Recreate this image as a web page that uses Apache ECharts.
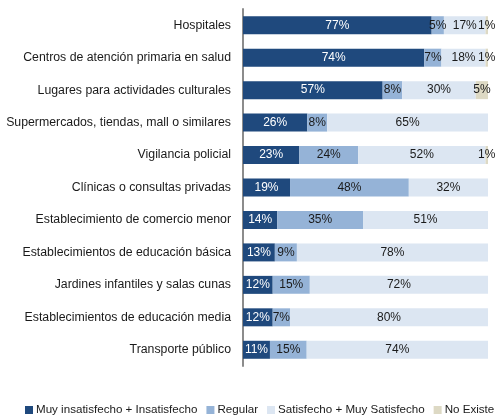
<!DOCTYPE html>
<html>
<head>
<meta charset="utf-8">
<script src="https://cdn.jsdelivr.net/npm/echarts@6/dist/echarts.min.js"></script>
<style>
  * { margin: 0; padding: 0; }
  html, body { background: #fff; }
</style>
</head>
<body>
<div id="chart" style="width: 495px; height: 416px;"></div>
<script>
  // categorias (de arriba hacia abajo)
  var categorias = [
    'Hospitales',
    'Centros de atención primaria en salud',
    'Lugares para actividades culturales',
    'Supermercados, tiendas, mall o similares',
    'Vigilancia policial',
    'Clínicas o consultas privadas',
    'Establecimiento de comercio menor',
    'Establecimientos de educación básica',
    'Jardines infantiles y salas cunas',
    'Establecimientos de educación media',
    'Transporte público'
  ];
  var insatisfecho = [77, 74, 57, 26, 23, 19, 14, 13, 12, 12, 11];
  var regular      = [5, 7, 8, 8, 24, 48, 35, 9, 15, 7, 15];
  var satisfecho   = [17, 18, 30, 65, 52, 32, 51, 78, 72, 80, 74];
  var noExiste     = [1, 1, 5, 0, 1, 0, 0, 0, 0, 0, 0];

  var nombres = ['Muy insatisfecho + Insatisfecho', 'Regular', 'Satisfecho + Muy Satisfecho', 'No Existe'];
  var colores = ['#1F497D', '#95B3D7', '#DCE6F2', '#DDD9C4'];
  var textos  = ['#ffffff', '#1a1a1a', '#1a1a1a', '#1a1a1a'];
  var grupos  = [insatisfecho, regular, satisfecho, noExiste];

  // 100% apilado: cada fila se normaliza a su total
  var totales = categorias.map(function (c, i) {
    return insatisfecho[i] + regular[i] + satisfecho[i] + noExiste[i];
  });

  var series = grupos.map(function (arr, k) {
    return {
      name: nombres[k],
      type: 'bar',
      stack: 'total',
      barWidth: 18,
      itemStyle: { color: colores[k] },
      label: {
        show: true,
        position: 'inside',
        color: textos[k],
        fontFamily: 'Liberation Sans',
        fontSize: 12,
        formatter: function (p) { return arr[p.dataIndex] + '%'; }
      },
      data: arr.map(function (v, i) {
        return v === 0 ? { value: 0, label: { show: false } } : v / totales[i] * 100;
      })
    };
  });

  var option = {
    animation: false,
    backgroundColor: '#ffffff',
    textStyle: { fontFamily: 'Liberation Sans' },
    grid: { left: 243, right: 7, top: 9, bottom: 50 },
    legend: {
      top: 404,
      left: 25,
      width: 470,
      padding: 0,
      itemWidth: 8,
      itemHeight: 8,
      itemGap: 9,
      icon: 'rect',
      textStyle: { fontSize: 11.6, color: '#1a1a1a', padding: [0, 0, 0, -2] },
      data: nombres
    },
    xAxis: {
      type: 'value',
      min: 0,
      max: 100,
      show: false
    },
    yAxis: {
      type: 'category',
      inverse: true,
      data: categorias,
      axisLine: { lineStyle: { color: '#8c8c8c', width: 2 } },
      axisTick: { show: false },
      axisLabel: { color: '#1a1a1a', fontSize: 12.3, margin: 12 }
    },
    series: series
  };

  var myChart = echarts.init(document.getElementById('chart'));
  myChart.setOption(option);
</script>
</body>
</html>
